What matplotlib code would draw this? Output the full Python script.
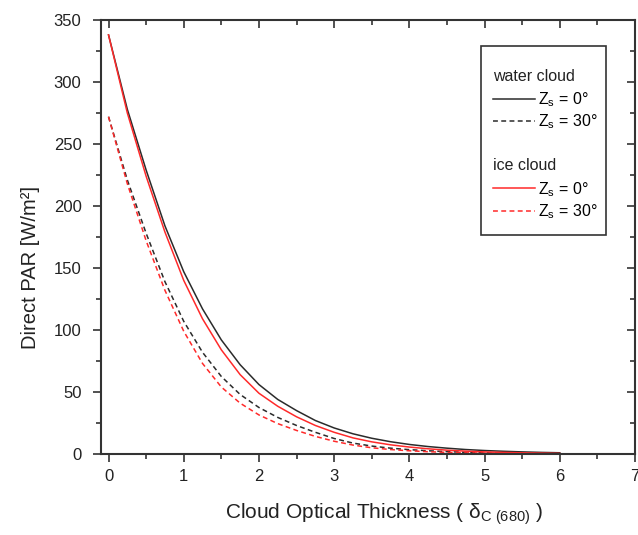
import matplotlib
matplotlib.use("Agg")
import matplotlib.pyplot as plt
from matplotlib.lines import Line2D
from matplotlib.patches import Rectangle
from matplotlib.ticker import MultipleLocator
import numpy as np

plt.rcParams['font.family'] = ['Liberation Sans', 'DejaVu Sans']
plt.rcParams['mathtext.fontset'] = 'custom'
plt.rcParams['mathtext.rm'] = 'Liberation Sans'
plt.rcParams['mathtext.it'] = 'Liberation Sans'

tau = np.arange(0, 6.01, 0.25)

water_0 = [338, 278, 229, 184, 147, 117, 92, 72, 56, 44, 35, 27, 21, 16.3,
           12.7, 9.9, 7.7, 6, 4.7, 3.6, 2.8, 2.2, 1.7, 1.3, 1.0]
water_30 = [272, 221, 178, 139, 107, 82, 62.5, 48, 37.5, 29.5, 23, 17.5, 12.5, 8.8,
            6.4, 4.7, 3.5, 2.6, 1.9, 1.4, 1.0, 0.7, 0.5, 0.35, 0.25]
ice_0 = [338, 275, 224, 179, 140, 109, 84, 64, 49, 38.5, 30, 23, 17.5, 13,
         9.8, 7.4, 5.6, 4.2, 3.1, 2.3, 1.7, 1.3, 0.95, 0.7, 0.5]
ice_30 = [272, 218, 172, 132, 99, 73, 54, 41, 31.5, 24.5, 19, 14.2, 10.3, 7.2,
          5.0, 3.6, 2.6, 1.85, 1.3, 0.95, 0.7, 0.5, 0.35, 0.25, 0.18]

black = '#2b2b2b'
red = '#ff2a2a'
dash = (0, (3.2, 2.2))
fs_leg = 11.5

fig = plt.figure(figsize=(6.38, 5.35), dpi=100)
ax = fig.add_axes([101 / 638, 1 - 454 / 535, (635 - 101) / 638, (454 - 20) / 535])

l1, = ax.plot(tau, water_0, color=black, lw=1.1)
l2, = ax.plot(tau, water_30, color=black, lw=1.1, linestyle=dash)
l3, = ax.plot(tau, ice_0, color=red, lw=1.1)
l4, = ax.plot(tau, ice_30, color=red, lw=1.1, linestyle=dash)

ax.set_xlim(-0.1, 7)
ax.set_ylim(0, 350)
ax.xaxis.set_major_locator(MultipleLocator(1))
ax.xaxis.set_minor_locator(MultipleLocator(0.5))
ax.yaxis.set_major_locator(MultipleLocator(50))
ax.yaxis.set_minor_locator(MultipleLocator(25))

for s in ax.spines.values():
    s.set_linewidth(1.5)
    s.set_color('#333333')
ax.tick_params(which='both', direction='out', colors='#333333', width=1.2,
               labelsize=12, labelcolor='#222222')
ax.tick_params(which='major', length=6)
ax.tick_params(which='minor', length=3.5)
ax.tick_params(axis='y', which='major', pad=8)
ax.tick_params(axis='x', which='major', pad=5)
ax.tick_params(which='both', top=True, right=True)
# mirror ticks point inward
for t in ax.xaxis.get_major_ticks() + ax.xaxis.get_minor_ticks():
    t.tick2line.set_marker(matplotlib.markers.TICKDOWN)
for t in ax.yaxis.get_major_ticks() + ax.yaxis.get_minor_ticks():
    t.tick2line.set_marker(matplotlib.markers.TICKLEFT)

ax.set_xlabel('Cloud Optical Thickness ( δ$_\\mathregular{C\\ (680)}$ )', fontsize=15,
              color='#222222')
ax.xaxis.set_label_coords(0.53, -0.11)
ax.set_ylabel('Direct PAR [W/m²]', fontsize=14.5, color='#222222')
ax.yaxis.set_label_coords(-0.115, 0.43)

# rows 0, 3, 4 hold no sample; their text is hidden but keeps row height
blank = Line2D([], [], color='none')
zs0 = 'Z$_\\mathregular{s}$ = 0°'
zs30 = 'Z$_\\mathregular{s}$ = 30°'
handles = [blank, l1, l2, blank, blank, l3, l4]
labels = [zs0, zs0, zs30, zs0, zs0, zs0, zs30]
leg = ax.legend(handles, labels, loc='upper left',
                bbox_to_anchor=((493 - 101) / 534, (454 - 68) / 434),
                borderaxespad=0, fontsize=fs_leg, frameon=False,
                handlelength=2.6, handletextpad=0.2, labelspacing=0.23,
                borderpad=0)
for i in (0, 3, 4):
    leg.get_texts()[i].set_alpha(0)

fig.canvas.draw()
inv = fig.transFigure.inverted()
for row, title in [(0, 'water cloud'), (4, 'ice cloud')]:
    bb = leg.get_lines()[row].get_window_extent()
    x0, y0 = inv.transform((bb.x0, (bb.y0 + bb.y1) / 2))
    fig.text(x0, y0, title, fontsize=fs_leg, va='center', ha='left', color='#222222')

# legend box, padded more vertically than horizontally
lb = leg.get_window_extent()
(bx0, by0) = inv.transform((lb.x0 - 12, lb.y0 - 14))
(bx1, by1) = inv.transform((lb.x1 + 9, lb.y1 + 22))
fig.add_artist(Rectangle((bx0, by0), bx1 - bx0, by1 - by0, transform=fig.transFigure,
                         fill=False, edgecolor='#333333', linewidth=1.2))

fig.savefig('out.png', dpi=100)
